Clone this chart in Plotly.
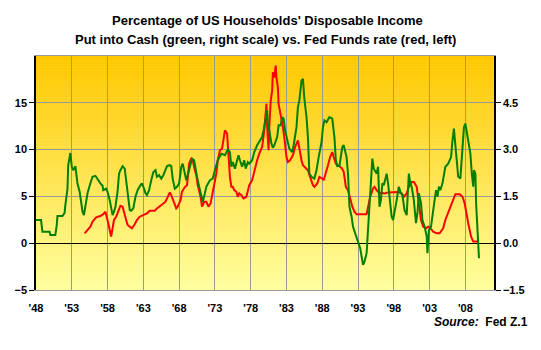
import plotly.graph_objects as go

# ---------------- data ----------------
cash_years = [1948.0, 1948.7, 1948.9, 1949.9, 1950.0, 1950.7, 1950.9, 1951.0, 1951.7, 1952.0,
              1952.1, 1952.4, 1952.5, 1952.7, 1952.8, 1953.0, 1953.2, 1953.5, 1953.7, 1953.8,
              1954.1, 1954.3, 1954.5, 1954.7, 1954.9, 1955.2, 1955.6, 1955.9, 1956.3, 1956.6,
              1957.0, 1957.3, 1957.4, 1957.8, 1958.0, 1958.3, 1958.5, 1958.7, 1958.9, 1959.1,
              1959.4, 1959.6, 1959.8, 1960.1, 1960.4, 1960.6, 1960.8, 1961.1, 1961.3, 1961.6,
              1961.9, 1962.2, 1962.6, 1962.8, 1963.1, 1963.3, 1963.5, 1963.8, 1964.1, 1964.4,
              1964.7, 1964.9, 1965.2, 1965.5, 1965.8, 1966.1, 1966.3, 1966.7, 1966.9, 1967.1,
              1967.4, 1967.7, 1968.0, 1968.3, 1968.5, 1968.8, 1969.0, 1969.2, 1969.5, 1969.8,
              1970.1, 1970.3, 1970.5, 1970.8, 1971.1, 1971.3, 1971.6, 1971.8, 1972.3, 1972.7,
              1973.0, 1973.4, 1973.9, 1974.4, 1974.8, 1975.1, 1975.3, 1975.5, 1975.8, 1976.0,
              1976.3, 1976.5, 1976.8, 1977.1, 1977.3, 1977.6, 1977.8, 1978.2, 1978.5, 1978.9,
              1979.2, 1979.6, 1979.8, 1980.1, 1980.3, 1980.4, 1980.6, 1980.9, 1981.1, 1981.3,
              1981.7, 1981.9, 1982.2, 1982.4, 1982.6, 1982.8, 1983.1, 1983.4, 1983.8, 1984.0,
              1984.4, 1984.6, 1984.8, 1985.1, 1985.3, 1985.5, 1985.8, 1986.0, 1986.2, 1986.5,
              1986.9, 1987.2, 1987.5, 1987.9, 1988.1, 1988.3, 1988.6, 1989.0, 1989.4, 1989.7,
              1989.9, 1990.1, 1990.4, 1990.8, 1991.0, 1991.4, 1991.6, 1991.8, 1992.1, 1992.3,
              1992.6, 1993.0, 1993.3, 1993.7, 1993.9, 1994.2, 1994.4, 1994.6, 1994.9, 1995.0,
              1995.2, 1995.6, 1995.8, 1996.0, 1996.2, 1996.4, 1996.6, 1997.0, 1997.2, 1997.4,
              1997.7, 1997.9, 1998.1, 1998.4, 1998.7, 1999.0, 1999.2, 1999.5, 1999.8, 2000.0,
              2000.1, 2000.3, 2000.5, 2000.8, 2001.1, 2001.3, 2001.5, 2001.8, 2002.0, 2002.3,
              2002.6, 2002.7, 2002.9, 2003.2, 2003.5, 2003.7, 2003.9, 2004.1, 2004.3, 2004.5,
              2004.8, 2005.0, 2005.2, 2005.6, 2005.8, 2006.0, 2006.2, 2006.4, 2006.5, 2006.7,
              2007.0, 2007.3, 2007.5, 2007.7, 2007.8, 2008.0, 2008.2, 2008.5, 2008.7, 2008.9,
              2009.1, 2009.2, 2009.4, 2009.5, 2009.8, 2009.9]
cash_pct = [0.74, 0.74, 0.37, 0.37, 0.26, 0.26, 0.58, 0.87, 0.87, 0.97,
            1.22, 1.75, 2.50, 2.88, 2.89, 2.45, 2.34, 2.47, 2.13, 1.91,
            1.65, 1.38, 1.01, 0.90, 1.17, 1.60, 1.92, 2.13, 2.16, 2.04,
            1.92, 1.84, 1.70, 1.75, 1.65, 1.38, 1.12, 0.90, 1.01, 1.17,
            1.65, 2.23, 2.34, 2.47, 2.39, 2.02, 1.49, 1.06, 1.04, 1.12,
            1.49, 1.70, 1.86, 1.92, 1.75, 1.60, 1.54, 1.70, 2.02, 2.28,
            2.34, 2.13, 2.18, 2.07, 2.18, 2.34, 2.47, 2.50, 2.47, 2.07,
            1.75, 1.81, 1.92, 2.45, 2.55, 2.23, 2.02, 2.18, 2.45, 2.71,
            2.66, 2.34, 2.13, 1.81, 1.49, 1.33, 1.60, 1.81, 2.02, 2.07,
            2.34, 2.66, 2.87, 2.82, 3.00, 2.92, 2.45, 2.60, 2.39, 2.55,
            2.82, 2.66, 2.45, 2.66, 2.39, 2.60, 2.55, 2.66, 2.92, 3.14,
            3.24, 3.40, 3.62, 4.04, 4.25, 3.83, 3.62, 3.19, 3.06, 3.14,
            3.40, 3.78, 3.78, 4.04, 3.99, 3.62, 3.30, 3.03, 2.92, 3.14,
            3.72, 4.36, 4.57, 5.21, 5.27, 4.63, 4.04, 3.40, 2.23, 2.13,
            2.07, 2.34, 2.76, 3.24, 3.72, 3.94, 3.88, 4.04, 3.99, 3.40,
            2.66, 2.47, 2.48, 3.08, 3.14, 2.76, 2.23, 1.17, 0.85, 0.53,
            0.32, 0.00, -0.16, -0.69, -0.59, -0.32, 0.42, 1.38, 2.13, 2.71,
            2.39, 2.23, 2.45, 1.17, 1.38, 1.92, 1.86, 2.23, 1.92, 1.38,
            0.85, 0.74, 1.06, 1.38, 1.81, 1.60, 1.54, 1.06, 0.90, 1.60,
            2.23, 1.92, 1.81, 1.38, 0.64, 0.96, 1.60, 1.28, 0.74, 0.53,
            0.21, -0.32, 0.42, 0.53, 0.96, 1.38, 1.70, 1.49, 1.81, 1.70,
            1.92, 2.23, 2.45, 2.55, 2.66, 2.76, 3.30, 3.67, 3.40, 2.87,
            2.13, 2.07, 2.66, 3.30, 3.72, 3.83, 3.51, 3.08, 2.87, 2.23,
            1.81, 2.34, 2.23, 1.28, 0.10, -0.48]

fed_years = [1954.8, 1955.2, 1955.6, 1955.9, 1956.4, 1957.0, 1957.4, 1957.7, 1957.9, 1958.1,
             1958.4, 1958.5, 1958.7, 1958.9, 1959.2, 1959.5, 1959.8, 1960.1, 1960.4, 1960.6,
             1960.8, 1961.2, 1961.4, 1961.8, 1962.1, 1962.5, 1962.9, 1963.5, 1963.9, 1964.6,
             1964.9, 1965.3, 1965.7, 1966.1, 1966.4, 1966.7, 1966.9, 1967.3, 1967.6, 1967.8,
             1968.2, 1968.4, 1968.8, 1969.1, 1969.4, 1969.7, 1969.9, 1970.2, 1970.4, 1970.6,
             1971.0, 1971.2, 1971.5, 1971.8, 1972.1, 1972.4, 1972.7, 1973.0, 1973.2, 1973.4,
             1973.7, 1974.0, 1974.2, 1974.4, 1974.7, 1974.8, 1975.0, 1975.1, 1975.3, 1975.5,
             1975.7, 1976.0, 1976.2, 1976.4, 1976.7, 1977.0, 1977.4, 1977.6, 1977.8, 1978.2,
             1978.5, 1978.9, 1979.2, 1979.6, 1979.9, 1980.1, 1980.2, 1980.3, 1980.5, 1980.6,
             1980.8, 1981.0, 1981.1, 1981.3, 1981.5, 1981.6, 1981.8, 1981.9, 1982.1, 1982.3,
             1982.5, 1982.7, 1983.0, 1983.2, 1983.5, 1983.9, 1984.2, 1984.6, 1984.8, 1985.1,
             1985.3, 1985.7, 1986.0, 1986.3, 1986.7, 1986.9, 1987.3, 1987.6, 1988.0, 1988.2,
             1988.5, 1988.8, 1989.1, 1989.4, 1989.6, 1989.9, 1990.2, 1990.7, 1991.0, 1991.3,
             1991.6, 1991.9, 1992.2, 1992.5, 1992.8, 1994.2, 1994.4, 1994.7, 1995.1, 1995.3,
             1995.6, 1996.0, 1996.3, 1996.7, 1997.2, 1997.9, 1998.6, 1999.1, 1999.4, 1999.8,
             2000.1, 2000.5, 2000.8, 2001.2, 2001.4, 2001.6, 2001.8, 2002.1, 2002.5, 2002.8,
             2003.1, 2003.5, 2004.0, 2004.4, 2004.9, 2005.2, 2005.7, 2006.2, 2006.6, 2007.2,
             2007.6, 2007.9, 2008.1, 2008.4, 2008.6, 2008.8, 2009.1, 2009.9]
fed_rate = [1.06, 1.41, 1.77, 2.30, 2.77, 2.90, 3.10, 3.36, 2.83, 2.13,
            1.06, 0.70, 1.60, 2.48, 2.83, 3.54, 4.00, 3.90, 3.19, 2.48,
            1.95, 1.77, 1.60, 2.02, 2.48, 2.83, 3.01, 3.19, 3.47, 3.47,
            3.72, 4.00, 4.18, 4.43, 4.96, 5.43, 5.14, 4.32, 3.72, 3.90,
            4.60, 5.49, 6.00, 6.20, 8.50, 9.10, 8.86, 7.80, 7.27, 6.20,
            4.96, 3.90, 4.43, 4.43, 3.90, 4.26, 5.32, 6.38, 7.45, 8.86,
            9.93, 10.10, 10.99, 12.05, 11.70, 10.28, 8.86, 7.08, 6.02, 6.02,
            5.67, 5.49, 4.96, 5.32, 5.14, 4.79, 4.96, 5.49, 6.20, 6.73,
            7.80, 8.86, 9.57, 10.28, 12.05, 14.18, 14.89, 12.40, 9.93, 12.40,
            15.24, 16.30, 18.26, 17.70, 18.97, 17.70, 16.66, 14.89, 14.18, 13.12,
            12.40, 11.34, 9.21, 8.68, 8.86, 9.39, 10.28, 10.99, 9.93, 8.86,
            8.33, 7.98, 7.80, 7.08, 6.20, 6.02, 6.38, 7.08, 6.91, 6.73,
            7.45, 8.33, 9.21, 9.74, 9.21, 8.51, 8.33, 8.05, 7.62, 6.02,
            5.67, 4.60, 3.90, 3.36, 3.09, 3.09, 3.90, 4.96, 5.85, 6.02,
            5.67, 5.32, 5.38, 5.32, 5.43, 5.46, 5.46, 5.32, 4.96, 5.32,
            6.02, 6.55, 6.55, 6.02, 4.60, 3.54, 2.48, 1.77, 1.60, 1.77,
            1.60, 1.24, 1.06, 1.06, 1.60, 2.48, 3.54, 4.60, 5.24, 5.24,
            4.96, 4.26, 3.19, 2.13, 1.41, 0.70, 0.17, 0.17]

x_tick_vals = [1948, 1953, 1958, 1963, 1968, 1973, 1978, 1983, 1988, 1993, 1998, 2003, 2008]
x_tick_text = ["'48", "'53", "'58", "'63", "'68", "'73", "'78", "'83", "'88", "'93", "'98", "'03", "'08"]
left_tick_vals = [-5, 0, 5, 10, 15]
right_tick_vals = [-1.5, 0.0, 1.5, 3.0, 4.5]

title_lines = ["Percentage of US Households' Disposable Income",
               "Put into Cash (green, right scale) vs. Fed Funds rate (red, left)"]

# ---------------- figure ----------------
FONT = "Liberation Sans, Arial, sans-serif"
fig = go.Figure()

fig.add_trace(go.Scatter(x=cash_years, y=cash_pct, yaxis="y2", mode="lines",
                         line=dict(color="#008000", width=2), name="Cash"))
fig.add_trace(go.Scatter(x=fed_years, y=fed_rate, yaxis="y", mode="lines",
                         line=dict(color="#FF0000", width=2), name="Fed Funds"))

# vertical gradient background of the plot area (orange-yellow top -> pale yellow bottom)
n_bands = 80
top_rgb = (255, 200, 0)
bot_rgb = (255, 255, 160)
shapes = []
for i in range(n_bands):
    t = (i + 0.5) / n_bands
    r = round(bot_rgb[0] + (top_rgb[0] - bot_rgb[0]) * t)
    g = round(bot_rgb[1] + (top_rgb[1] - bot_rgb[1]) * t)
    b = round(bot_rgb[2] + (top_rgb[2] - bot_rgb[2]) * t)
    shapes.append(dict(type="rect", xref="x domain", yref="y domain",
                       x0=0, x1=1, y0=i / n_bands, y1=(i + 1) / n_bands + 0.002,
                       fillcolor=f"rgb({r},{g},{b})", line=dict(width=0), layer="below"))

annotations = [
    dict(text=title_lines[0], xref="paper", yref="paper", x=0.505, y=1, yshift=36,
         showarrow=False, xanchor="center", yanchor="middle",
         font=dict(family=FONT, size=13, color="black", weight="bold")),
    dict(text=title_lines[1], xref="paper", yref="paper", x=0.5, y=1, yshift=17,
         showarrow=False, xanchor="center", yanchor="middle",
         font=dict(family=FONT, size=13, color="black", weight="bold")),
    dict(text="<i>Source:</i>  Fed Z.1", xref="paper", yref="paper", x=1, y=0, xshift=36,
         yshift=-32, showarrow=False, xanchor="right", yanchor="middle",
         font=dict(family=FONT, size=12, color="black", weight="bold")),
]

fig.update_layout(
    width=541, height=350,
    margin=dict(l=36, r=47, t=56, b=60),
    paper_bgcolor="white", plot_bgcolor="#FFFF99",
    showlegend=False,
    shapes=shapes, annotations=annotations,
    xaxis=dict(range=[1948, 2012], tickmode="array", tickvals=x_tick_vals, ticktext=x_tick_text,
               showgrid=True, gridcolor="#999999", gridwidth=1, ticks="",
               ticklabelstandoff=8,
               showline=True, linecolor="#999999", linewidth=1, mirror=True,
               zeroline=False, tickfont=dict(family=FONT, size=11, color="black", weight="bold")),
    yaxis=dict(range=[-5, 20], tickmode="array", tickvals=left_tick_vals,
               showgrid=True, gridcolor="#999999", gridwidth=1,
               zeroline=True, zerolinecolor="black", zerolinewidth=1,
               showline=True, linecolor="black", linewidth=1.5,
               ticks="outside", ticklen=5, tickcolor="black", tickwidth=1,
               tickfont=dict(family=FONT, size=11, color="black", weight="bold")),
    yaxis2=dict(range=[-1.5, 6.0], overlaying="y", side="right", tickmode="array",
                tickvals=right_tick_vals, tickformat=".1f", showgrid=False, zeroline=False,
                showline=True, linecolor="black", linewidth=1.5,
                ticks="outside", ticklen=5, tickcolor="black", tickwidth=1,
                tickfont=dict(family=FONT, size=11, color="black", weight="bold")),
)

fig.write_html("out.html")
